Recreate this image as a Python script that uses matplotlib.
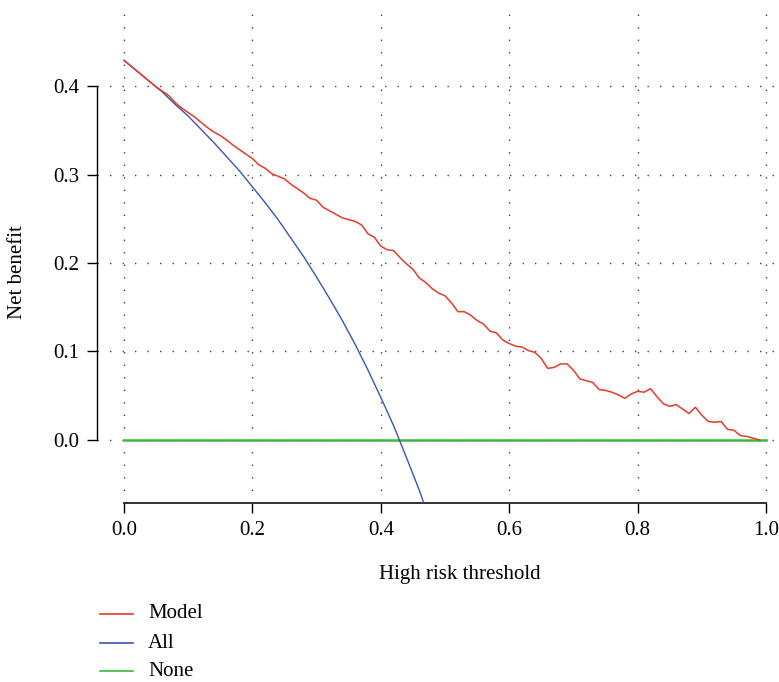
import numpy as np
import matplotlib
matplotlib.use("Agg")
import matplotlib.pyplot as plt
from matplotlib.lines import Line2D

# Decision curve: net benefit versus high-risk threshold
thresholds = [round(0.01 * i, 2) for i in range(100)]
model_nb = [
    0.429, 0.423, 0.417, 0.411, 0.405, 0.399, 0.394, 0.389, 0.381, 0.375,
    0.370, 0.365, 0.359, 0.353, 0.348, 0.344, 0.339, 0.333, 0.328, 0.323,
    0.318, 0.311, 0.307, 0.301, 0.298, 0.295, 0.289, 0.284, 0.279, 0.273,
    0.271, 0.263, 0.259, 0.255, 0.251, 0.249, 0.247, 0.243, 0.233, 0.229,
    0.219, 0.215, 0.214, 0.206, 0.199, 0.193, 0.183, 0.178, 0.171, 0.166,
    0.163, 0.155, 0.145, 0.145, 0.141, 0.135, 0.131, 0.123, 0.121, 0.113,
    0.109, 0.106, 0.105, 0.101, 0.099, 0.092, 0.081, 0.082, 0.086, 0.086,
    0.079, 0.069, 0.067, 0.065, 0.057, 0.056, 0.054, 0.051, 0.047, 0.052,
    0.055, 0.054, 0.058, 0.049, 0.041, 0.038, 0.040, 0.035, 0.030, 0.037,
    0.028, 0.021, 0.020, 0.021, 0.012, 0.011, 0.005, 0.004, 0.002, 0.000,
]

all_thresholds = [0.00, 0.02, 0.04, 0.06, 0.08, 0.10, 0.12, 0.14, 0.16, 0.18,
                  0.20, 0.22, 0.24, 0.26, 0.28, 0.30, 0.32, 0.34, 0.36, 0.38,
                  0.40, 0.42, 0.44, 0.46, 0.48]
all_nb = [0.429, 0.417, 0.405, 0.393, 0.379, 0.366, 0.351, 0.336, 0.320, 0.304,
          0.286, 0.268, 0.249, 0.228, 0.207, 0.184, 0.160, 0.135, 0.108, 0.079,
          0.048, 0.016, -0.020, -0.057, -0.098]

none_thresholds = [0.0, 1.0]
none_nb = [0.0, 0.0]

x_ticks = [0.0, 0.2, 0.4, 0.6, 0.8, 1.0]
y_ticks = [0.0, 0.1, 0.2, 0.3, 0.4]
series_labels = ["Model", "All", "None"]

RED = "#e8392c"
BLUE = "#3b56b0"
GREEN = "#3dba3d"
colors = [RED, BLUE, GREEN]

plt.rcParams["font.family"] = ["Liberation Serif", "DejaVu Serif"]
FS = 15

W, H = 779, 682
fig = plt.figure(figsize=(W / 100, H / 100), dpi=100)
ax = fig.add_axes([97 / W, (H - 503) / H, (779 - 97) / W, (503 - 10) / H])
ax.set_xlim(-0.0421, 1.0202)
ax.set_ylim(-0.0712, 0.4859)

# dotted reference grid
for xv in x_ticks:
    ax.axvline(xv, color="#444444", lw=1.0, ls=(0, (1, 8)), zorder=0)
for yv in y_ticks:
    ax.axhline(yv, color="#444444", lw=1.0, ls=(0, (1, 8)), zorder=0)

ax.plot(none_thresholds, none_nb, color=GREEN, lw=1.8, zorder=2)
ax.plot(all_thresholds, all_nb, color=BLUE, lw=1.0, zorder=3)
ax.plot(thresholds, model_nb, color=RED, lw=1.1, zorder=4)

for s in ["top", "right"]:
    ax.spines[s].set_visible(False)
ax.spines["left"].set_bounds(0.0, 0.4)
ax.spines["bottom"].set_bounds(0.0, 1.0)
ax.spines["left"].set_linewidth(1.0)
ax.spines["bottom"].set_linewidth(1.4)
ax.spines["bottom"].set_color("#333333")

ax.set_xticks(x_ticks)
ax.set_xticklabels([f"{v:.1f}" for v in x_ticks])
ax.set_yticks(y_ticks)
ax.set_yticklabels([f"{v:.1f}" for v in y_ticks])
ax.tick_params(axis="both", direction="out", length=7, width=1.0, labelsize=FS)
ax.tick_params(axis="x", pad=6)
ax.tick_params(axis="y", pad=6)

fig.text(460 / W, 1 - 574 / H, "High risk threshold", ha="center", va="center", fontsize=FS)
fig.text(18 / W, 1 - 272 / H, "Net benefit", ha="center", va="center", rotation=90, fontsize=FS)

# legend below the plot
legend_rows = [614, 643, 671]
for lab, col, yy in zip(series_labels, colors, legend_rows):
    fy = 1 - yy / H
    fig.add_artist(Line2D([100 / W, 133 / W], [fy, fy], color=col, lw=1.2,
                          transform=fig.transFigure))
    fig.text(148 / W, fy, lab, ha="left", va="center", fontsize=FS)

fig.savefig("out.png", dpi=100)
